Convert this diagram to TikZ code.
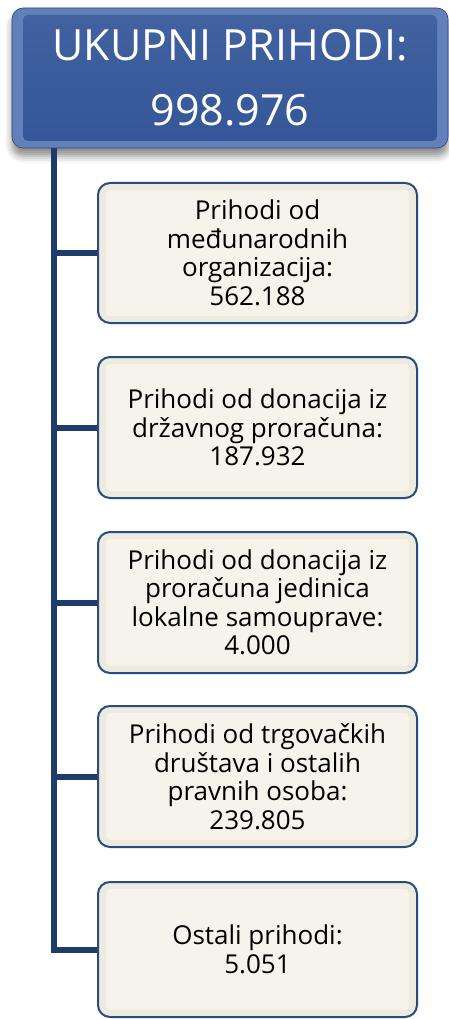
\documentclass[tikz,border=0pt]{standalone}
\usepackage{fontspec}
\setmainfont{Open Sans}
\usetikzlibrary{shadows.blur,positioning}
\definecolor{topedge}{RGB}{98,128,186}
\definecolor{toptop}{RGB}{66,98,160}
\definecolor{topbot}{RGB}{52,86,152}
\definecolor{conncol}{RGB}{31,59,106}
\definecolor{boxedge}{RGB}{237,235,223}
\definecolor{boxfill}{RGB}{245,243,234}
\definecolor{boxline}{RGB}{40,76,124}
\tikzset{
  topbox/.style={rectangle, rounded corners=11pt, minimum width=436pt, minimum height=140pt,
    fill=topedge, draw=topbot!80!black, line width=0.6pt, text=white, align=center,
    font=\fontsize{43}{65}\selectfont, inner sep=0pt,
    blur shadow={shadow xshift=0pt, shadow yshift=-8pt, shadow blur radius=7pt, shadow opacity=45},
    path picture={\fill[top color=toptop, bottom color=topbot, rounded corners=5pt]
      ([xshift=11pt,yshift=-7pt]path picture bounding box.north west) rectangle
      ([xshift=-11pt,yshift=7pt]path picture bounding box.south east);}},
  childbox/.style={rectangle, rounded corners=12pt, minimum width=319pt,
    fill=boxedge, draw=boxline, line width=2pt, text=black, align=center,
    font=\fontsize{26}{28.5}\selectfont, inner sep=0pt,
    path picture={\fill[boxfill, rounded corners=4pt]
      ([xshift=8pt,yshift=-7pt]path picture bounding box.north west) rectangle
      ([xshift=-8pt,yshift=7pt]path picture bounding box.south east);}},
  conn/.style={draw=conncol, line width=6pt}
}
\begin{document}
\begin{tikzpicture}[x=1pt,y=-1pt]
\useasboundingbox (0,0) rectangle (448,1019);
\node[topbox] (top) at (230,78) {UKUPNI PRIHODI:\\998.976};
\coordinate (trunk) at (54,148);
\node[childbox, minimum height=140pt] (b1) at (257.5,253) {Prihodi od\\međunarodnih\\organizacija:\\562.188};
\node[childbox, minimum height=141pt] (b2) at (257.5,427.5) {Prihodi od donacija iz\\državnog proračuna:\\187.932};
\node[childbox, minimum height=141pt] (b3) at (257.5,602.5) {Prihodi od donacija iz\\proračuna jedinica\\lokalne samouprave:\\4.000};
\node[childbox, minimum height=141pt] (b4) at (257.5,776.5) {Prihodi od trgovačkih\\društava i ostalih\\pravnih osoba:\\239.805};
\node[childbox, minimum height=135pt] (b5) at (257.5,949.5) {Ostali prihodi:\\5.051};
\draw[conn] (trunk) |- (b5.west);
\foreach \b in {b1,b2,b3,b4}{\draw[conn] (trunk |- \b.west) -- (\b.west);}
\end{tikzpicture}
\end{document}
